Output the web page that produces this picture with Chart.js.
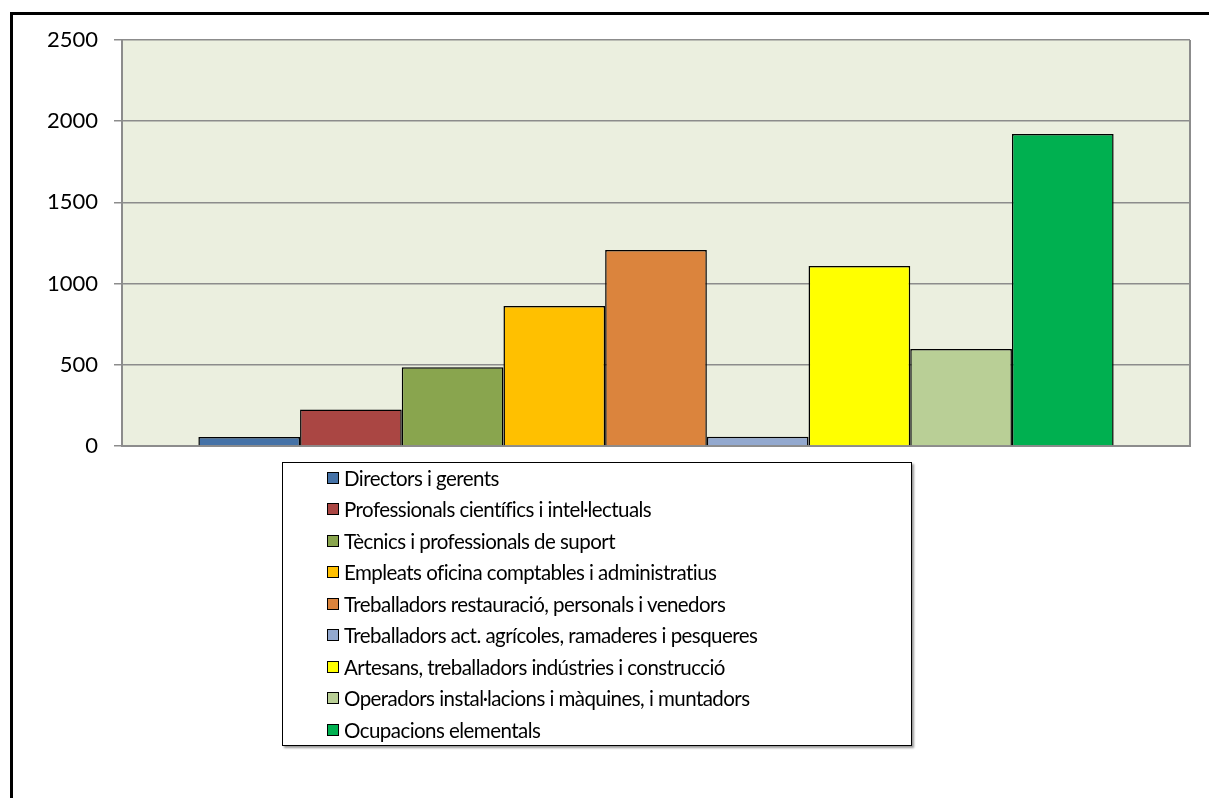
<!DOCTYPE html>
<html>
<head>
<meta charset="utf-8">
<script src="https://cdn.jsdelivr.net/npm/chart.js@4/dist/chart.umd.min.js"></script>
<style>
  html, body { margin: 0; padding: 0; background: #fff; }
  #wrap { position: relative; width: 1209px; height: 798px; overflow: hidden; }
  #frame { position: absolute; left: 10px; top: 12px; width: 1300px; height: 900px; border: 3px solid #000; box-sizing: border-box; }
  canvas { position: absolute; left: 0; top: 0; }
  #legend { position: absolute; left: 282px; top: 462px; width: 630px; height: 284px; box-sizing: border-box;
            border: 1px solid #000; background: #fff; box-shadow: 2px 2px 2px #999;
            font-family: Lato, "Open Sans", sans-serif; font-size: 20.5px; letter-spacing: -0.55px; color: #000; padding-top: 0px; }
  .item { height: 31.5px; display: flex; align-items: center; padding-left: 44px; white-space: nowrap; position: relative; top: -1px; }
  .sw { width: 10px; height: 10px; border: 1.5px solid #000; margin-right: 5px; flex: none; }
</style>
</head>
<body>
<div id="wrap">
  <div id="frame"></div>
  <canvas id="c" width="1209" height="798"></canvas>
  <div id="legend"></div>
</div>
<script>
const seriesNames = [
  "Directors i gerents",
  "Professionals científics i intel·lectuals",
  "Tècnics i professionals de suport",
  "Empleats oficina comptables i administratius",
  "Treballadors restauració, personals i venedors",
  "Treballadors act. agrícoles, ramaderes i pesqueres",
  "Artesans, treballadors indústries i construcció",
  "Operadors instal·lacions i màquines, i muntadors",
  "Ocupacions elementals"
];
const seriesValues = [55, 225, 485, 862, 1207, 57, 1108, 597, 1921];
const seriesColors = ["#4572a7", "#aa4643", "#89a54e", "#ffc000", "#db843d", "#93a9cf", "#ffff00", "#b9cf96", "#00b050"];
const categories = [""];
const yTicks = [0, 500, 1000, 1500, 2000, 2500];

const plotBg = {
  id: 'plotBg',
  beforeDraw(chart) {
    const {ctx, chartArea: a} = chart;
    ctx.save();
    ctx.fillStyle = '#ebefdf';
    ctx.fillRect(a.left, a.top, a.right - a.left, a.bottom - a.top);
    ctx.restore();
  },
  afterDatasetsDraw(chart) {
    const {ctx, chartArea: a} = chart;
    ctx.save();
    ctx.strokeStyle = '#8c8c8c';
    ctx.lineWidth = 2;
    ctx.beginPath();
    ctx.moveTo(a.right, a.top);
    ctx.lineTo(a.right, a.bottom);
    ctx.stroke();
    ctx.restore();
  }
};

new Chart(document.getElementById('c'), {
  type: 'bar',
  data: {
    labels: categories,
    datasets: seriesNames.map((n, i) => ({
      label: n,
      data: [seriesValues[i]],
      backgroundColor: seriesColors[i],
      borderColor: '#000',
      borderWidth: 1.5,
      barPercentage: 1,
      categoryPercentage: 0.857
    }))
  },
  options: {
    responsive: false,
    animation: false,
    layout: { padding: { left: 0, top: 40, right: 19, bottom: 352 } },
    plugins: { legend: { display: false }, tooltip: { enabled: false } },
    scales: {
      x: {
        ticks: { display: false },
        grid: { display: false },
        border: { display: true, color: '#8c8c8c', width: 2 },
        afterFit(s) { s.height = 0; }
      },
      y: {
        min: 0, max: 2500,
        afterBuildTicks(s) { s.ticks = yTicks.map(v => ({value: v})); },
        ticks: { color: '#000', font: { family: 'Lato', size: 22 }, padding: 16, callback: v => String(v) },
        grid: { color: '#8c8c8c', lineWidth: 1.5, tickLength: 8, drawTicks: true },
        border: { display: true, color: '#8c8c8c', width: 2 },
        afterFit(s) { s.width = 122; }
      }
    }
  },
  plugins: [plotBg]
});

const lg = document.getElementById('legend');
seriesNames.forEach((n, i) => {
  const d = document.createElement('div');
  d.className = 'item';
  d.innerHTML = '<span class="sw" style="background:' + seriesColors[i] + '"></span><span>' + n + '</span>';
  lg.appendChild(d);
});
</script>
</body>
</html>
